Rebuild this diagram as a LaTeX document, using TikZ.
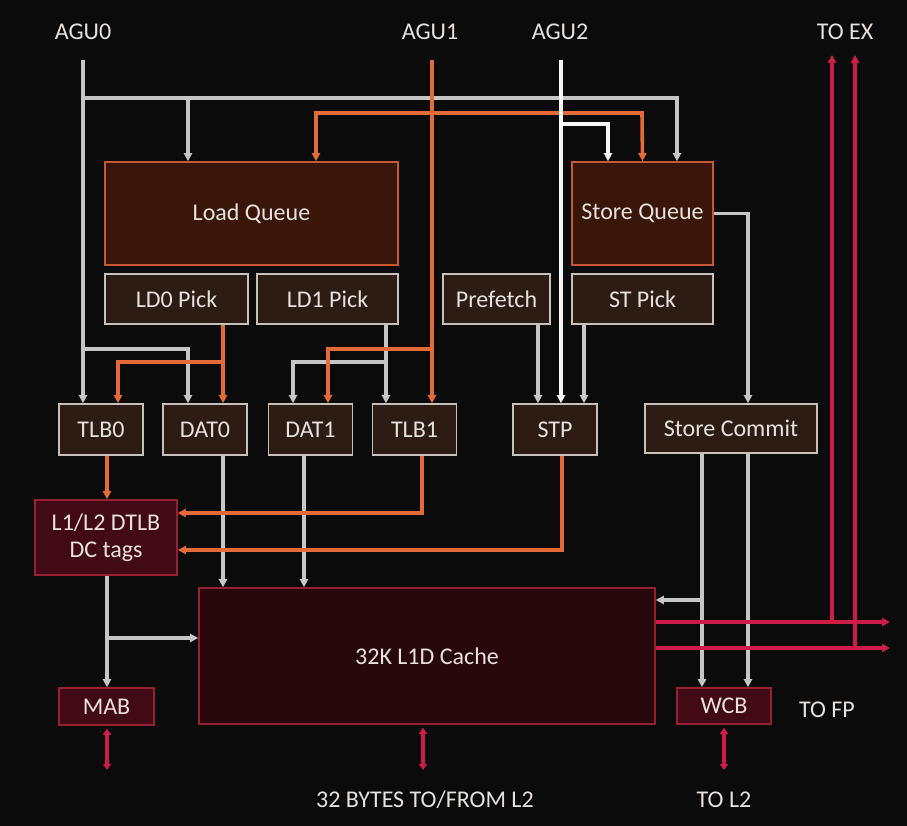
\documentclass[tikz,border=0pt]{standalone}
\usepackage{fontspec}
\setmainfont{Carlito}
\definecolor{bg}{RGB}{12,11,12}
\definecolor{wire}{RGB}{198,198,198}
\definecolor{bright}{RGB}{246,246,246}
\definecolor{ember}{RGB}{228,106,56}
\definecolor{crim}{RGB}{206,28,72}
\definecolor{qfill}{RGB}{58,22,10}
\definecolor{qedge}{RGB}{196,90,52}
\definecolor{pfill}{RGB}{44,28,20}
\definecolor{pedge}{RGB}{200,192,186}
\definecolor{cfill}{RGB}{40,7,13}
\definecolor{dfill}{RGB}{66,10,20}
\definecolor{cedge}{RGB}{150,32,52}
\definecolor{ink}{RGB}{232,226,222}
\usepackage{tikz}
\usetikzlibrary{arrows.meta}

\tikzset{
  box/.style={inner sep=0pt,text=ink,line width=1.6pt},
  qbox/.style={box,draw=qedge,fill=qfill},
  pbox/.style={box,draw=pedge,fill=pfill},
  cbox/.style={box,draw=cedge,fill=cfill},
  dbox/.style={box,draw=cedge,fill=dfill},
  lbl/.style={text=ink},
  tip/.style={-{Triangle[length=8pt,width=8pt]}},
  gw/.style={wire,line width=3.2pt,tip},
  ww/.style={bright,line width=3.4pt,tip},
  ow/.style={ember,line width=3.6pt,tip},
  rw/.style={crim,line width=3.8pt,tip},
  rd/.style={crim,line width=3.8pt,{Triangle[length=6pt,width=8pt]}-{Triangle[length=6pt,width=8pt]}}
}

\begin{document}
\begin{tikzpicture}[x=1pt,y=-1pt,font=\fontsize{24}{27}\selectfont]
  \fill[bg] (0,0) rectangle (907,826);
  \useasboundingbox (0,0) rectangle (907,826);

  \node[lbl] (agu0) at (83,32) {AGU0};
  \node[lbl] (agu1) at (430,32) {AGU1};
  \node[lbl] (agu2) at (560,32) {AGU2};
  \node[lbl] (toex) at (845,32) {TO EX};
  \node[lbl] (tofp) at (827,710) {TO FP};
  \node[lbl] (bytes) at (425,800) {32 BYTES TO/FROM L2};
  \node[lbl] (tol2) at (724,800) {TO L2};

  \node[qbox,minimum width=293,minimum height=103] (lq) at (251.5,213.5) {Load Queue};
  \node[qbox,minimum width=141,minimum height=103] (sq) at (642.5,213.5) {Store Queue};
  \node[pbox,minimum width=143,minimum height=50] (ld0) at (176.5,299) {LD0 Pick};
  \node[pbox,minimum width=141,minimum height=50] (ld1) at (327.5,299) {LD1 Pick};
  \node[pbox,minimum width=107,minimum height=50] (pf) at (496.5,299) {Prefetch};
  \node[pbox,minimum width=141,minimum height=50] (stpick) at (642.5,299) {ST Pick};

  \node[pbox,minimum width=84,minimum height=51] (tlb0) at (101,429.5) {TLB0};
  \node[pbox,minimum width=84,minimum height=51] (dat0) at (205,429.5) {DAT0};
  \node[pbox,minimum width=84,minimum height=51] (dat1) at (310.5,429.5) {DAT1};
  \node[pbox,minimum width=84,minimum height=51] (tlb1) at (414.5,429.5) {TLB1};
  \node[pbox,minimum width=84,minimum height=51] (stp) at (555,429.5) {STP};
  \node[pbox,minimum width=172,minimum height=49] (scom) at (731,428.5) {Store Commit};

  \node[dbox,minimum width=142,minimum height=75,align=center] (dtlb) at (106,537.5) {L1/L2 DTLB\\DC tags};
  \node[cbox,minimum width=456,minimum height=136] (cache) at (427,656) {32K L1D Cache};
  \node[dbox,minimum width=95,minimum height=37] (mab) at (106.5,706.5) {MAB};
  \node[dbox,minimum width=94,minimum height=36] (wcb) at (724,706) {WCB};

  \coordinate (a0) at (83,60);
  \coordinate (a1) at (432,60);
  \coordinate (a2) at (561,60);

  \draw[gw] (a0) -- (tlb0.north -| a0);
  \draw[gw] (83,98) -| (sq.north -| 677,0);
  \draw[gw] (188,98) -- (lq.north -| 188,0);
  \draw[gw] (83,349) -| (dat0.north -| 188,0);
  \draw[gw] (ld1.south -| 386,0) -- (tlb1.north -| 386,0);
  \draw[gw] (386,362) -| (dat1.north -| 293,0);
  \draw[gw] (pf.south -| 538,0) -- (stp.north -| 538,0);
  \draw[gw] (stpick.south -| 584,0) -- (stp.north -| 584,0);
  \draw[gw] (sq.east) -| (scom.north -| 748,0);
  \draw[gw] (dat0.south -| 223,0) -- (cache.north -| 223,0);
  \draw[gw] (dat1.south -| 304,0) -- (cache.north -| 304,0);
  \draw[gw] (dtlb.south -| 107,0) -- (mab.north -| 107,0);
  \draw[gw] (107,638) -- (cache.west |- 0,638);
  \draw[gw] (scom.south -| 702,0) -- (wcb.north -| 702,0);
  \draw[gw] (702,600) -- (cache.east |- 0,600);
  \draw[gw] (scom.south -| 748,0) -- (wcb.north -| 748,0);

  \draw[ow] (a1) -- (tlb1.north -| a1);
  \draw[ow,{Triangle[length=8pt,width=8pt]}-{Triangle[length=8pt,width=8pt]}] (lq.north -| 316,0) |- (642,113) -- (sq.north);
  \draw[ow] (432,349) -| (dat1.north -| 328,0);
  \draw[ow] (ld0.south -| 223,0) -- (dat0.north -| 223,0);
  \draw[ow] (223,362) -| (tlb0.north -| 118,0);
  \draw[ow] (tlb0.south -| 107,0) -- (dtlb.north -| 107,0);
  \draw[ow] (tlb1.south -| 422,0) |- (dtlb.east |- 0,513);
  \draw[ow] (stp.south -| 562,0) |- (dtlb.east |- 0,550);

  \draw[ww] (a2) -- (stp.north -| a2);
  \draw[ww] (561,124) -| (sq.north -| 608,0);

  \foreach \x/\y/\n in {832/622/1,855/648/2} {
    \coordinate (ex\n) at (\x,55);
    \coordinate (fp\n) at (890,\y);
    \draw[rw] (cache.east |- 0,\y) -- (fp\n);
    \draw[rw] (\x,\y) -- (ex\n);
  }
  \coordinate (l2mab) at (107,770);
  \coordinate (l2c) at (423,770);
  \coordinate (l2w) at (724,770);
  \draw[rd] ([yshift=-3pt]mab.south -| l2mab) -- (l2mab);
  \draw[rd] ([yshift=-3pt]cache.south -| l2c) -- (l2c);
  \draw[rd] ([yshift=-3pt]wcb.south -| l2w) -- (l2w);
\end{tikzpicture}
\end{document}
